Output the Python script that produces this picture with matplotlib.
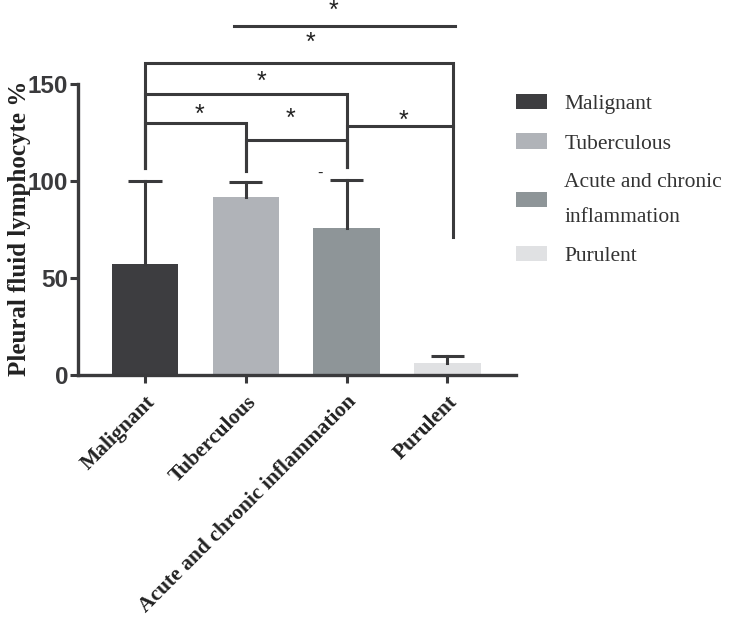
import numpy as np
import matplotlib
matplotlib.use("Agg")
import matplotlib.pyplot as plt
from matplotlib.patches import Patch

# Data
groups = ['Malignant', 'Tuberculous', 'Acute and chronic inflammation', 'Purulent']
legend_names = ['Malignant', 'Tuberculous', 'Acute and chronic\ninflammation', 'Purulent']
means = [57, 91.5, 76, 6]
upper_err = [43, 8, 24.5, 3.8]
colors = ['#3d3d40', '#b0b3b8', '#8e9598', '#e0e1e3']

# significance brackets: (left group, right group, bar height, left leg bottom, right leg bottom)
brackets = [
    (0, 1, 130, 106.5, 105),
    (1, 2, 121, 105, 107),
    (0, 2, 145, 106.5, 107),
    (0, 3.06, 161, 106.5, 71),
    (2, 3.06, 128.5, 107, 128.5),
]
top_line = (0.88, 3.08, 180)
stars = [(1.87, 187.5), (1.64, 171), (1.16, 151), (0.54, 134), (1.44, 132), (2.56, 131)]

ink = '#3a3a3c'
serif = 'Liberation Serif'
sans = 'Liberation Sans'

fig = plt.figure(figsize=(7.44, 6.19), dpi=100)
ax = fig.add_axes([0.1048, 0.3942, 0.5887, 0.4701])

x = np.arange(len(groups))
ax.bar(x, means, width=0.66, color=colors, zorder=2)

lw = 2.2
# upper-only error bars with a cap
for xi, m, e in zip(x, means, upper_err):
    ax.plot([xi, xi], [m, m + e], color=ink, lw=lw, zorder=3)
    ax.plot([xi - 0.165, xi + 0.165], [m + e, m + e], color=ink, lw=lw, zorder=3,
            solid_capstyle='butt')

for a, b, h, la, lb in brackets:
    ax.plot([a, a, b, b], [la, h, h, lb], color=ink, lw=lw, clip_on=False,
            solid_joinstyle='miter')
ax.plot([top_line[0], top_line[1]], [top_line[2], top_line[2]], color=ink, lw=lw, clip_on=False)
for sx, sy in stars:
    ax.text(sx, sy, '*', ha='center', va='center', fontsize=18, color='#222222',
            family=sans, clip_on=False)
ax.text(1.74, 104, '-', ha='center', va='center', fontsize=12, color='#222222', family=sans)

ax.set_xlim(-0.665, 3.68)
ax.set_ylim(0, 150)
ax.set_yticks([0, 50, 100, 150])
ax.set_xticks(x)
ax.set_xticklabels(groups, rotation=45, ha='right', rotation_mode='anchor',
                   family=serif, fontweight='bold', fontsize=15.5, color='#222222')
for lab in ax.get_yticklabels():
    lab.set_family(sans)
    lab.set_fontweight('bold')
    lab.set_fontsize(17.5)
    lab.set_color(ink)
ax.tick_params(axis='both', direction='out', length=6, width=2.2, color=ink, pad=1)
ax.tick_params(axis='x', pad=6)
for side in ['top', 'right']:
    ax.spines[side].set_visible(False)
for side in ['left', 'bottom']:
    ax.spines[side].set_linewidth(2.4)
    ax.spines[side].set_color(ink)
fig.text(20 / 744, 1 - 228 / 619, 'Pleural fluid lymphocyte %', rotation=90,
         ha='center', va='center', family=serif, fontweight='bold',
         fontsize=18, color='#222222')

handles = [Patch(facecolor=c, edgecolor='none') for c in colors]
leg = fig.legend(handles, legend_names, loc='upper left', bbox_to_anchor=(516 / 744, 1 - 94 / 619),
                 frameon=False, prop={'family': serif, 'size': 15.5}, labelcolor='#333333',
                 borderpad=0, borderaxespad=0,
                 handlelength=1.45, handleheight=0.7, handletextpad=0.8, labelspacing=0.9)
for t in leg.get_texts():
    t.set_linespacing(2.12)

fig.savefig('out.png', dpi=100)
